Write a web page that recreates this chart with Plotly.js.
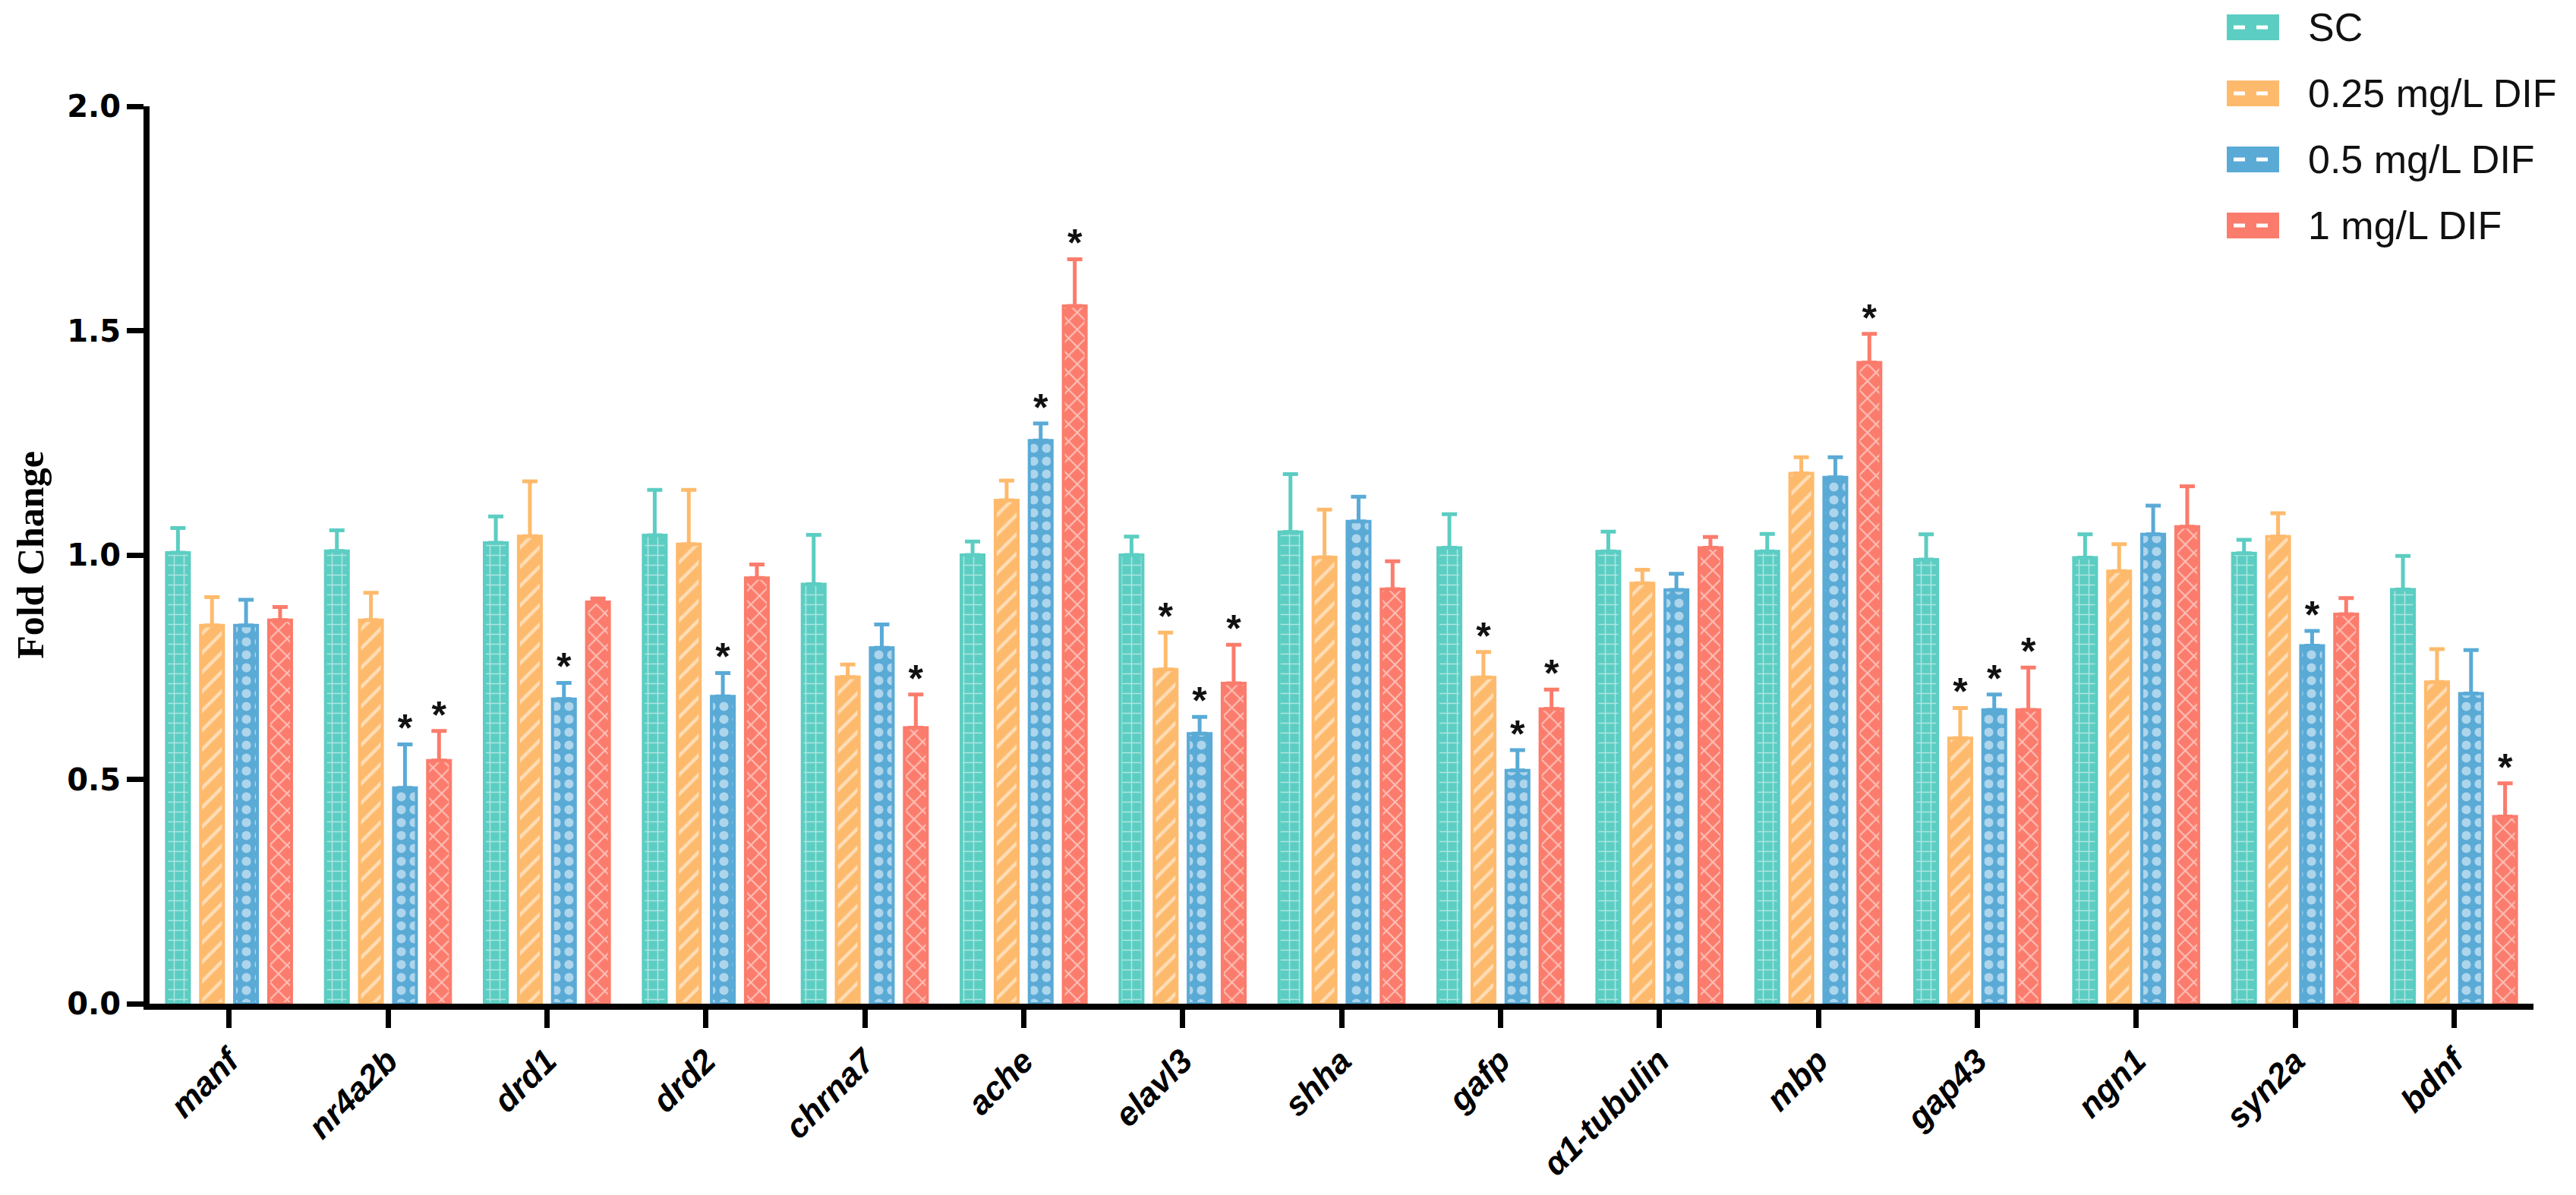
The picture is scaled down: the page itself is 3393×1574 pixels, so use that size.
<!DOCTYPE html>
<html>
<head>
<meta charset="utf-8">
<script src="https://cdn.plot.ly/plotly-3.0.1.min.js"></script>
<style>
  html, body { margin: 0; padding: 0; background: #ffffff; }
  #chart { width: 3393px; height: 1574px; }
</style>
</head>
<body>
<div id="chart"></div>
<script>
// ---- data ----
const genes = ['manf','nr4a2b','drd1','drd2','chrna7','ache','elavl3','shha','gafp','α1-tubulin','mbp','gap43','ngn1','syn2a','bdnf'];
const seriesNames = ['SC','0.25 mg/L DIF','0.5 mg/L DIF','1 mg/L DIF'];

const meanSC   = [1.005, 1.009, 1.027, 1.044, 0.935, 1.000, 1.000, 1.051, 1.016, 1.008, 1.008, 0.990, 0.994, 1.004, 0.923];
const sdSC     = [0.055, 0.046, 0.059, 0.101, 0.110, 0.030, 0.041, 0.129, 0.075, 0.044, 0.039, 0.056, 0.052, 0.030, 0.075];
const mean025  = [0.843, 0.855, 1.042, 1.024, 0.728, 1.122, 0.745, 0.995, 0.727, 0.937, 1.182, 0.592, 0.964, 1.041, 0.717];
const sd025    = [0.063, 0.061, 0.122, 0.121, 0.028, 0.044, 0.082, 0.106, 0.057, 0.030, 0.036, 0.067, 0.060, 0.052, 0.073];
const mean05   = [0.843, 0.481, 0.679, 0.685, 0.793, 1.255, 0.602, 1.075, 0.520, 0.922, 1.173, 0.655, 1.046, 0.798, 0.691];
const sd05     = [0.057, 0.097, 0.036, 0.052, 0.052, 0.038, 0.037, 0.055, 0.045, 0.036, 0.045, 0.034, 0.064, 0.033, 0.097];
const mean1    = [0.855, 0.542, 0.895, 0.949, 0.615, 1.555, 0.714, 0.924, 0.657, 1.016, 1.429, 0.655, 1.063, 0.868, 0.417];
const sd1      = [0.029, 0.066, 0.008, 0.030, 0.074, 0.104, 0.086, 0.062, 0.043, 0.024, 0.064, 0.094, 0.090, 0.036, 0.074];

// significance marks ('*' or '')
const sigSC  = ['','','','','','','','','','','','','','',''];
const sig025 = ['','','','','','','*','','*','','','*','','',''];
const sig05  = ['','*','*','*','','*','*','','*','','','*','','*',''];
const sig1   = ['','*','','','*','*','*','','*','','*','*','','','*'];

const yTickVals = [0, 0.5, 1.0, 1.5, 2.0];

// ---- styles ----
const colors   = ['#5ccdc2', '#feba6c', '#5aaad6', '#fb7c6c'];
const patterns = [
  { shape: '+', size: 13, solidity: 0.22 },
  { shape: '/', size: 18, solidity: 0.25 },
  { shape: '.', size: 17, solidity: 0.4 },
  { shape: 'x', size: 16, solidity: 0.25 }
];
const means = [meanSC, mean025, mean05, mean1];
const sds   = [sdSC, sd025, sd05, sd1];
const sigs  = [sigSC, sig025, sig05, sig1];
const starLift = 0.028; // gap between error cap and star (y units)

const W = 3393, H = 1574;
const M = { l: 197, r: 56, t: 140, b: 252 };
const plotW = W - M.l - M.r, plotH = H - M.t - M.b;

const traces = [];
for (let s = 0; s < 4; s++) {
  traces.push({
    type: 'bar',
    name: seriesNames[s],
    x: genes,
    y: means[s],
    marker: {
      color: colors[s],
      line: { color: colors[s], width: 4 },
      pattern: Object.assign({ fillmode: 'overlay', fgcolor: '#ffffff' }, patterns[s])
    },
    error_y: {
      type: 'data', symmetric: false, array: sds[s], arrayminus: sds[s].map(() => 0),
      color: colors[s], thickness: 5, width: 10
    },
    showlegend: false,
    hoverinfo: 'skip'
  });
}
for (let s = 0; s < 4; s++) {
  traces.push({
    type: 'scatter',
    mode: 'text',
    x: genes,
    y: means[s].map((v, i) => v + sds[s][i] + starLift),
    text: sigs[s],
    textposition: 'middle center',
    textfont: { family: 'Liberation Sans, Arial, sans-serif', size: 50, color: '#111111', weight: 'bold' },
    cliponaxis: false,
    showlegend: false,
    hoverinfo: 'skip'
  });
}

// legend built from series names/colours (pixel layout converted to paper coords)
const px2x = p => (p - M.l) / plotW;
const py2y = p => (H - M.b - p) / plotH;
const legRows = [36, 123, 210, 297];
const shapes = [];
const annotations = [];
for (let s = 0; s < 4; s++) {
  const cy = legRows[s];
  shapes.push({
    type: 'rect', xref: 'paper', yref: 'paper',
    x0: px2x(2933), x1: px2x(3002), y0: py2y(cy + 17), y1: py2y(cy - 17),
    fillcolor: colors[s], line: { width: 0 }
  });
  shapes.push({
    type: 'line', xref: 'paper', yref: 'paper',
    x0: px2x(2942), x1: px2x(2993), y0: py2y(cy), y1: py2y(cy),
    line: { color: '#ffffff', width: 5, dash: 'dash' }
  });
  annotations.push({
    xref: 'paper', yref: 'paper', x: px2x(3038), y: py2y(cy),
    xanchor: 'left', yanchor: 'middle', showarrow: false,
    text: seriesNames[s],
    font: { family: 'Liberation Sans, Arial, sans-serif', size: 52, color: '#111111' }
  });
}

const layout = {
  width: W, height: H,
  margin: M,
  paper_bgcolor: '#ffffff', plot_bgcolor: '#ffffff',
  barmode: 'group',
  bargap: 0.143,
  bargroupgap: 0.33,
  scattermode: 'group',
  scattergap: 0.143,
  showlegend: false,
  xaxis: {
    type: 'category',
    showline: true, linecolor: '#000000', linewidth: 8,
    ticks: 'outside', ticklen: 24, tickwidth: 7, tickcolor: '#000000',
    tickangle: -45,
    tickfont: { family: 'Liberation Sans, Arial, sans-serif', size: 44, color: '#000000', weight: 'bold', style: 'italic' },
    showgrid: false, zeroline: false, automargin: false,
    fixedrange: true
  },
  yaxis: {
    range: [0, 2],
    tickvals: yTickVals,
    tickformat: '.1f',
    showline: true, linecolor: '#000000', linewidth: 8,
    ticks: 'outside', ticklen: 22, tickwidth: 7, tickcolor: '#000000',
    tickfont: { family: 'DejaVu Sans, sans-serif', size: 40, color: '#000000', weight: 'bold' },
    showgrid: false, zeroline: false, automargin: false,
    title: { text: 'Fold Change', standoff: 18,
      font: { family: 'Liberation Serif, Times New Roman, serif', size: 50, color: '#000000', weight: 'bold' } },
    fixedrange: true
  },
  shapes: shapes,
  annotations: annotations
};

Plotly.newPlot('chart', traces, layout, { displayModeBar: false, staticPlot: true });
</script>
</body>
</html>
